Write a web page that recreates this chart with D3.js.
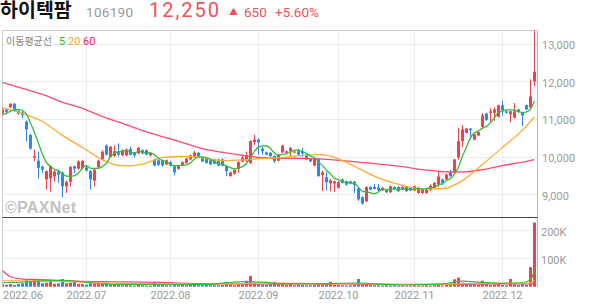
<!DOCTYPE html>
<html>
<head>
<meta charset="utf-8">
<script src="https://cdn.jsdelivr.net/npm/d3@7"></script>
<style>
  body { margin: 0; background: #fff; }
  svg text { font-family: Roboto, "Noto Sans CJK KR", sans-serif; }
</style>
</head>
<body>
<div id="chart"></div>
<script>
// daily candles, 2022-05-31 .. 2022-12-13
const opens = [11140,11250,11310,11400,11200,11170,10930,10570,9970,9890,
  9730,9390,9420,9470,9600,9570,9210,9330,9740,9680,
  9690,9710,9610,9360,9720,9920,10290,9990,10010,10110,
  10030,10030,10200,10100,10080,10170,10170,10030,9920,9900,
  9900,9790,9850,9740,9670,9760,9830,9920,9990,10100,
  9960,9940,9900,9920,9920,9920,9740,9480,9540,9670,
  9870,9900,9830,10380,10450,10210,10110,10100,10010,9890,
  10110,10100,10140,10110,10140,10140,10050,9940,9760,9940,
  9510,9450,9290,9280,9170,9390,9340,9340,9330,9150,
  8920,8810,9190,9190,9180,9100,9120,9050,9190,9190,
  9140,9190,9170,9100,9030,9030,9030,9110,9170,9260,
  9390,9390,9580,9570,9970,10410,10630,10740,10450,10560,
  10790,11140,11160,11160,11060,11360,11200,11120,11030,11250,
  11160,11360,11300,11990];
const highs = [11300,11280,11420,11420,11230,11200,10960,10600,10190,10130,
  9760,9630,9770,9640,9640,9600,9360,9750,9760,9900,
  9910,9760,9640,9680,9910,10160,10320,10280,10300,10350,
  10190,10210,10260,10120,10250,10190,10190,10120,9940,9920,
  9920,9920,9880,9760,9780,9870,9960,10050,10150,10120,
  9990,9960,9920,9940,9940,9950,9760,9600,9660,9880,
  10050,10130,10430,10580,10480,10270,10130,10120,10030,10070,
  10310,10160,10250,10150,10200,10230,10070,9960,9960,9960,
  9620,9600,9400,9360,9350,9410,9360,9360,9350,9170,
  8940,9210,9210,9270,9270,9190,9140,9230,9210,9210,
  9210,9210,9200,9230,9190,9140,9140,9260,9320,9600,
  9410,9540,9640,9940,10760,10830,10760,10760,10610,10670,
  11150,11160,11280,11310,11380,11480,11220,11220,11420,11270,
  11180,11380,12050,13420];
const lows = [11060,11150,11290,11230,11110,11010,10400,10180,9870,9410,
  9560,9120,9070,9330,9300,8920,9030,9200,9560,9650,
  9660,9600,9120,9200,9700,9900,10030,9980,9990,10000,
  10010,10000,10030,9970,10060,10060,10030,10000,9740,9750,
  9730,9770,9740,9500,9650,9740,9810,9900,9970,9990,
  9850,9810,9770,9790,9740,9740,9480,9460,9520,9570,
  9850,9850,9800,10300,10050,10050,10030,9990,9830,9870,
  10090,10080,10010,10090,10030,9990,9900,9850,9740,9460,
  9080,9100,9080,9060,9150,9280,9230,9260,9030,8820,
  8720,8790,9100,9120,9080,9080,9030,9030,9120,9060,
  9120,9060,9080,9080,9010,9010,9010,9090,9150,9190,
  9240,9370,9460,9550,9920,10250,10610,10450,10430,10540,
  10770,10950,10930,10950,11040,11090,11140,10910,11010,11160,
  10810,11230,11280,11870];
const closes = [11250,11190,11400,11250,11140,11100,10720,10210,10010,9700,
  9650,9610,9740,9600,9520,9210,9330,9720,9680,9870,
  9880,9630,9390,9650,9890,10130,10050,10260,10140,10050,
  10170,10190,10050,10030,10230,10080,10050,10100,9760,9780,
  9760,9900,9760,9580,9760,9850,9940,10030,10100,10010,
  9870,9830,9790,9810,9760,9760,9610,9580,9640,9850,
  9970,10030,10410,10450,10380,10140,10050,10010,9870,10050,
  10290,10140,10230,10130,10050,10080,9920,9870,9940,9480,
  9580,9320,9370,9340,9320,9300,9250,9280,9240,8860,
  8750,9190,9120,9140,9100,9170,9050,9210,9140,9080,
  9190,9080,9100,9210,9170,9120,9120,9220,9300,9470,
  9300,9520,9480,9920,10410,10720,10740,10700,10590,10650,
  11090,10970,11200,11250,11360,11230,11160,11200,11200,11180,
  11090,11250,11600,12250];
// closes of the 4 sessions before the first candle (for the 5-day average)
const priorCloses = [11050, 11100, 11150, 11050];

// volume, in thousands of shares
const volumes = [8,7,9,6,10,12,27,18,24,27,
  12,14,24,10,12,27,12,14,18,10,
  9,7,12,10,9,11,13,8,6,9,
  5,6,5,4,6,5,4,4,17,8,
  6,5,4,6,5,6,5,7,6,5,
  5,6,5,5,5,6,17,9,5,8,
  13,21,38,14,12,8,7,9,17,9,
  12,6,13,5,7,6,5,5,6,10,
  8,9,17,7,6,5,4,5,6,27,
  10,13,6,5,5,4,5,4,5,4,
  4,4,4,5,4,4,5,4,5,6,
  4,10,11,26,32,14,10,9,8,6,
  21,10,6,8,13,6,5,27,8,6,
  9,7,69,226];

// 20 / 60 day price averages read at these sessions
const maIdx = [0,5,10,15,20,25,30,35,40,45,50,55,60,65,70,75,80,85,90,95,100,105,110,115,120,125,130,133];
const ma20 = [11300,11140,10930,10560,10240,9910,9750,9800,9970,10000,9970,9890,9910,9950,9970,10030,10050,9890,9630,9390,9230,9140,9150,9360,9790,10240,10700,11050];
const ma60 = [11970,11810,11650,11440,11280,11060,10880,10690,10530,10370,10210,10110,10030,9970,9950,9950,9930,9890,9840,9790,9730,9650,9600,9590,9650,9760,9850,9920];

// volume averages (thousands) read at these sessions
const vmaIdx = [0,2,5,10,15,20,25,30,40,50,60,65,70,80,90,95,100,110,115,120,125,130,132,133];
const vma5  = [14,15,16,21,22,17,10,8,9,7,18,16,10,11,13,8,6,10,20,15,12,14,25,57];
const vma20 = [21,21,21,20,19,17,14,12,9,8,11,12,13,10,11,10,7,8,11,12,12,12,14,21];
const vma60 = [57,35,27,25,22,19,18,17,15,11,10,10,10,10,9,9,8,8,9,9,10,10,11,14];

const monthIdx = [0,21,42,64,84,103,125];
const monthLabels = ["2022.06","2022.07","2022.08","2022.09","2022.10","2022.11","2022.12"];
const priceTicks = [9000,10000,11000,12000,13000];
const volTicks = [100000,200000];

const W = 594, H = 304;
const fLeft = 2.5, fRight = 537.5, fTop = 30.5, fSep = 217.5, fBottom = 287;
const upColor = "#f2404c", downColor = "#2f88ee";
const ma5Color = "#35bb35", ma20Color = "#ffaa30", ma60Color = "#ff4a72";
const N = closes.length;

const svg = d3.select("#chart").append("svg")
  .attr("width", W)
  .attr("height", H);

let x = d3.scaleBand().domain(d3.range(N)).range([0.5, 536.5]);
let cx = i => x(i) + x.bandwidth() / 2;

let y = d3.scaleLinear().domain([9000, 13000]).range([194.15, 43.55]);
let yv = d3.scaleLinear().domain([0, 200000]).range([286.7, 230]);

// header
let head = svg.append("g");
head.append("text").attr("x", 0).attr("y", 17)
  .style("font-family", "'Noto Sans CJK KR'").attr("font-size", 19.5).attr("font-weight", 700)
  .attr("fill", "#111").text("하이텍팜");
head.append("text").attr("x", 86).attr("y", 16.5).attr("font-size", 13.5)
  .attr("fill", "#999").attr("textLength", 47).text("106190");
head.append("text").attr("x", 149).attr("y", 17).attr("font-size", 20)
  .attr("fill", "#f4505a").attr("textLength", 70).text("12,250");
head.append("text").attr("x", 229).attr("y", 14.5).attr("font-size", 9)
  .attr("fill", "#f4505a").text("▲");
head.append("text").attr("x", 244).attr("y", 16.5).attr("font-size", 13.5)
  .attr("fill", "#f4505a").text("650");
head.append("text").attr("x", 275).attr("y", 16.5).attr("font-size", 13.5)
  .attr("fill", "#f4505a").text("+5.60%");

// grid
let grid = svg.append("g");
grid.selectAll(".vg").data(monthIdx).join("line")
  .attr("x1", d => cx(d)).attr("x2", d => cx(d))
  .attr("y1", fTop).attr("y2", fBottom)
  .attr("stroke", "#ececec");
grid.selectAll(".hg").data(priceTicks).join("line")
  .attr("x1", fLeft).attr("x2", fRight)
  .attr("y1", d => Math.round(y(d)) + 0.5).attr("y2", d => Math.round(y(d)) + 0.5)
  .attr("stroke", "#ececec");
grid.selectAll(".vhg").data(volTicks).join("line")
  .attr("x1", fLeft).attr("x2", fRight)
  .attr("y1", d => Math.round(yv(d)) + 0.5).attr("y2", d => Math.round(yv(d)) + 0.5)
  .attr("stroke", "#ececec");

// frame
svg.append("line").attr("x1", fLeft).attr("x2", fRight).attr("y1", fTop).attr("y2", fTop).attr("stroke", "#ccc");
svg.append("line").attr("x1", fLeft).attr("x2", fLeft).attr("y1", fTop).attr("y2", fBottom).attr("stroke", "#ccc");
svg.append("line").attr("x1", fRight).attr("x2", fRight).attr("y1", fTop).attr("y2", fBottom).attr("stroke", "#bbb");
svg.append("line").attr("x1", fLeft).attr("x2", fRight).attr("y1", fSep).attr("y2", fSep).attr("stroke", "#444");

// watermark
svg.append("text").attr("x", 5).attr("y", 213)
  .style("font-family", "'Liberation Sans', Arial, sans-serif")
  .attr("font-size", 16).attr("font-weight", 700).attr("fill", "#c2c2c2")
  .attr("textLength", 71).text("©PAXNet");

// legend
svg.append("text").attr("x", 6).attr("y", 45).attr("font-size", 10)
  .style("font-family", "'Noto Sans CJK KR'").attr("fill", "#888").text("이동평균선");
svg.append("text").attr("x", 59).attr("y", 45).attr("font-size", 11).attr("fill", "#22b522").text("5");
svg.append("text").attr("x", 68).attr("y", 45).attr("font-size", 11).attr("fill", "#ffa31a").text("20");
svg.append("text").attr("x", 83).attr("y", 45).attr("font-size", 11).attr("fill", "#f2205a").text("60");

// axis labels
svg.selectAll(".pl").data(priceTicks).join("text")
  .attr("x", 542).attr("y", d => y(d) + 5.5)
  .attr("font-size", 11).attr("fill", "#9a9a9a")
  .text(d => d3.format(",")(d));
svg.selectAll(".vl").data(volTicks).join("text")
  .attr("x", 541).attr("y", d => yv(d) + 6)
  .attr("font-size", 11).attr("fill", "#9a9a9a")
  .text(d => (d / 1000) + "K");
svg.selectAll(".ml").data(monthIdx).join("text")
  .attr("y", 299).attr("font-size", 11).attr("fill", "#9a9a9a")
  .attr("text-anchor", "middle")
  .text((d, k) => monthLabels[k])
  .attr("x", function (d) {
    let w = this.getComputedTextLength();
    return Math.max(cx(d), 3 + w / 2);
  });

// clips
svg.append("clipPath").attr("id", "pclip").append("rect")
  .attr("x", fLeft).attr("y", fTop).attr("width", fRight - fLeft).attr("height", fSep - fTop);
svg.append("clipPath").attr("id", "vclip").append("rect")
  .attr("x", fLeft).attr("y", fSep + 1).attr("width", fRight - fLeft).attr("height", fBottom - fSep);

// candles
let up = i => closes[i] >= opens[i];
let pc = svg.append("g").attr("clip-path", "url(#pclip)");
pc.selectAll(".wick").data(d3.range(N)).join("line")
  .attr("x1", i => cx(i)).attr("x2", i => cx(i))
  .attr("y1", i => y(highs[i])).attr("y2", i => y(lows[i]))
  .attr("stroke", i => up(i) ? upColor : downColor);
pc.selectAll(".body").data(d3.range(N)).join("rect")
  .attr("x", i => cx(i) - 1.5).attr("width", 3)
  .attr("y", i => y(Math.max(opens[i], closes[i])))
  .attr("height", i => Math.max(1, Math.abs(y(opens[i]) - y(closes[i]))))
  .attr("fill", i => up(i) ? upColor : downColor);

// moving averages
let all = priorCloses.concat(closes);
let ma5 = d3.range(N).map(i => d3.mean(all.slice(i, i + 5)));

let line = d3.line().x(d => cx(d[0])).y(d => y(d[1])).curve(d3.curveMonotoneX);
pc.append("path").datum(maIdx.map((d, k) => [d, ma60[k]]))
  .attr("d", line).attr("fill", "none").attr("stroke", ma60Color).attr("stroke-width", 1.3);
pc.append("path").datum(maIdx.map((d, k) => [d, ma20[k]]))
  .attr("d", line).attr("fill", "none").attr("stroke", ma20Color).attr("stroke-width", 1.3);
pc.append("path").datum(ma5.map((v, i) => [i, v]))
  .attr("d", line).attr("fill", "none").attr("stroke", ma5Color).attr("stroke-width", 1.3);

// volume
let vc = svg.append("g").attr("clip-path", "url(#vclip)");
vc.selectAll(".vbar").data(d3.range(N)).join("rect")
  .attr("x", i => cx(i) - 1.5).attr("width", 3)
  .attr("y", i => yv(volumes[i] * 1000))
  .attr("height", i => yv(0) - yv(volumes[i] * 1000))
  .attr("fill", i => up(i) ? upColor : downColor);

let vline = d3.line().x(d => cx(d[0])).y(d => yv(d[1] * 1000)).curve(d3.curveMonotoneX);
vc.append("path").datum(vmaIdx.map((d, k) => [d, vma60[k]]))
  .attr("d", vline).attr("fill", "none").attr("stroke", ma60Color).attr("stroke-width", 1.2);
vc.append("path").datum(vmaIdx.map((d, k) => [d, vma20[k]]))
  .attr("d", vline).attr("fill", "none").attr("stroke", ma20Color).attr("stroke-width", 1.2);
vc.append("path").datum(vmaIdx.map((d, k) => [d, vma5[k]]))
  .attr("d", vline).attr("fill", "none").attr("stroke", ma5Color).attr("stroke-width", 1.2);
</script>
</body>
</html>
